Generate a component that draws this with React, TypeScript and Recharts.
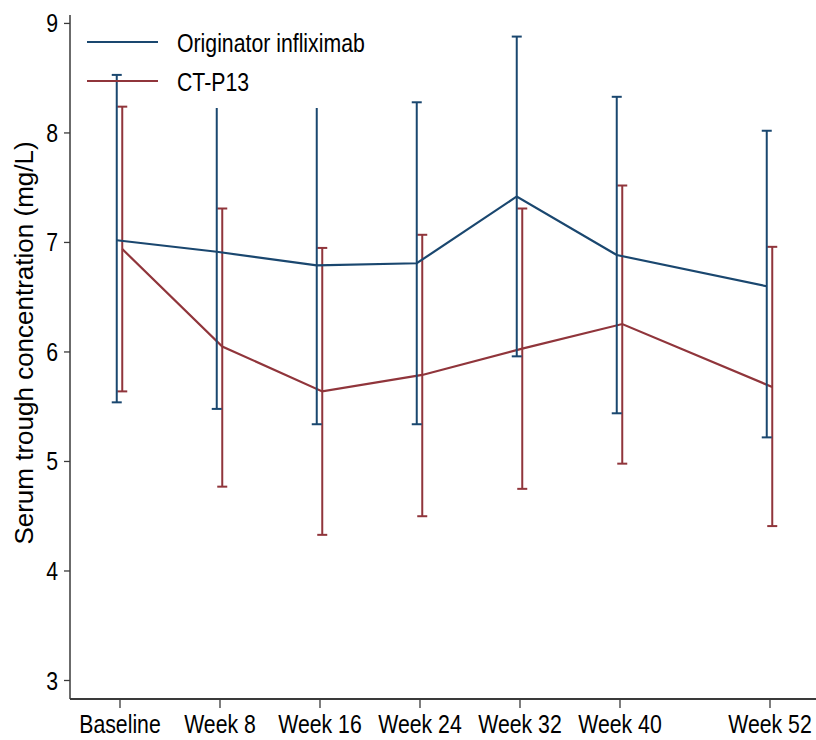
import React from 'react';
import { ComposedChart, Line, XAxis, YAxis, ErrorBar, Legend, Label } from 'recharts';

const weeks = [0, 8, 16, 24, 32, 40, 52];
const tickLabels = ['Baseline', 'Week 8', 'Week 16', 'Week 24', 'Week 32', 'Week 40', 'Week 52'];
const yTicks = [3, 4, 5, 6, 7, 8, 9];

const originatorMean = [7.02, 6.915, 6.79, 6.81, 7.42, 6.885, 6.60];
const originatorLower = [5.54, 5.48, 5.34, 5.34, 5.96, 5.44, 5.22];
const originatorUpper = [8.53, 8.40, 8.40, 8.28, 8.88, 8.33, 8.02];

const ctp13Mean = [6.94, 6.05, 5.64, 5.79, 6.03, 6.255, 5.68];
const ctp13Lower = [5.64, 4.77, 4.33, 4.50, 4.75, 4.98, 4.41];
const ctp13Upper = [8.24, 7.31, 6.95, 7.07, 7.31, 7.52, 6.96];

const BLUE = '#1a476f';
const RED = '#90353b';
const AXIS = '#3a3a3a';
const SANS = '"Liberation Sans", Arial, sans-serif';
const SQUEEZE = 0.85;

const build = (mean: number[], lower: number[], upper: number[], shift: number) =>
  weeks.map((w, i) => ({
    x: w + shift,
    mean: mean[i],
    err: [mean[i] - lower[i], upper[i] - mean[i]],
  }));

const originatorData = build(originatorMean, originatorLower, originatorUpper, -0.26);
const ctp13Data = build(ctp13Mean, ctp13Lower, ctp13Upper, 0.18);

const labelFor = (v: number) => {
  const i = weeks.indexOf(v);
  return i >= 0 ? tickLabels[i] : '';
};

const XTick = (props: any) => {
  const { x, y, payload } = props;
  return (
    <g transform={`translate(${x},${y})`}>
      <text
        transform={`scale(${SQUEEZE},1)`}
        textAnchor="middle"
        dy="0.71em"
        fontFamily={SANS}
        fontSize={25}
        fill="#000"
      >
        {labelFor(payload.value)}
      </text>
    </g>
  );
};

const YTick = (props: any) => {
  const { x, y, payload } = props;
  return (
    <g transform={`translate(${x},${y})`}>
      <text
        transform={`scale(${SQUEEZE},1)`}
        textAnchor="end"
        dy="0.36em"
        fontFamily={SANS}
        fontSize={25}
        fill="#000"
      >
        {payload.value}
      </text>
    </g>
  );
};

const legendText: React.CSSProperties = {
  position: 'absolute',
  left: 177,
  fontFamily: SANS,
  fontSize: 25,
  lineHeight: '30px',
  color: '#000',
  whiteSpace: 'nowrap',
  transform: `scaleX(${SQUEEZE})`,
  transformOrigin: 'left center',
};

const LegendContent = () => (
  <div style={{ position: 'relative', width: 816, height: 0 }}>
    <div style={{ position: 'absolute', left: 165, top: 20, width: 210, height: 88, background: '#fff' }} />
    <div style={{ position: 'absolute', left: 87, top: 40.5, width: 71, height: 2.2, background: BLUE }} />
    <div style={{ position: 'absolute', left: 87, top: 79.5, width: 71, height: 2.2, background: RED }} />
    <div style={{ ...legendText, top: 28 }}>Originator infliximab</div>
    <div style={{ ...legendText, top: 67 }}>CT-P13</div>
  </div>
);

export default function App() {
  return (
    <div style={{ position: 'absolute', left: 0, top: 0, width: 816, height: 740, background: '#fff' }}>
      <ComposedChart width={816} height={740} margin={{ top: 15, right: 0, bottom: 0, left: 0 }}>
        <XAxis
          type="number"
          dataKey="x"
          domain={[-4, 55.68]}
          allowDataOverflow
          ticks={weeks}
          interval={0}
          height={41}
          tickSize={9}
          tickMargin={7}
          axisLine={{ stroke: AXIS, strokeWidth: 2 }}
          tickLine={{ stroke: AXIS, strokeWidth: 1.3 }}
          tick={<XTick />}
        />
        <YAxis
          type="number"
          domain={[2.831, 9.077]}
          allowDataOverflow
          ticks={yTicks}
          interval={0}
          width={70}
          tickSize={6}
          tickMargin={6}
          axisLine={{ stroke: AXIS, strokeWidth: 1.5 }}
          tickLine={{ stroke: AXIS, strokeWidth: 1.3 }}
          tick={<YTick />}
        >
          <Label
            content={() => (
              <text
                transform="translate(33,343) rotate(-90)"
                textAnchor="middle"
                fontFamily={SANS}
                fontSize={26}
                fill="#000"
              >
                Serum trough concentration (mg/L)
              </text>
            )}
          />
        </YAxis>
        <Line
          data={ctp13Data}
          dataKey="mean"
          type="linear"
          stroke={RED}
          strokeWidth={2.2}
          dot={false}
          activeDot={false}
          isAnimationActive={false}
        >
          <ErrorBar dataKey="err" direction="y" width={5} stroke={RED} strokeWidth={2} isAnimationActive={false} />
        </Line>
        <Line
          data={originatorData}
          dataKey="mean"
          type="linear"
          stroke={BLUE}
          strokeWidth={2.2}
          dot={false}
          activeDot={false}
          isAnimationActive={false}
        >
          <ErrorBar dataKey="err" direction="y" width={5} stroke={BLUE} strokeWidth={2} isAnimationActive={false} />
        </Line>
        <Legend content={LegendContent} wrapperStyle={{ left: 0, top: 0, width: 816, height: 0 }} />
      </ComposedChart>
    </div>
  );
}
